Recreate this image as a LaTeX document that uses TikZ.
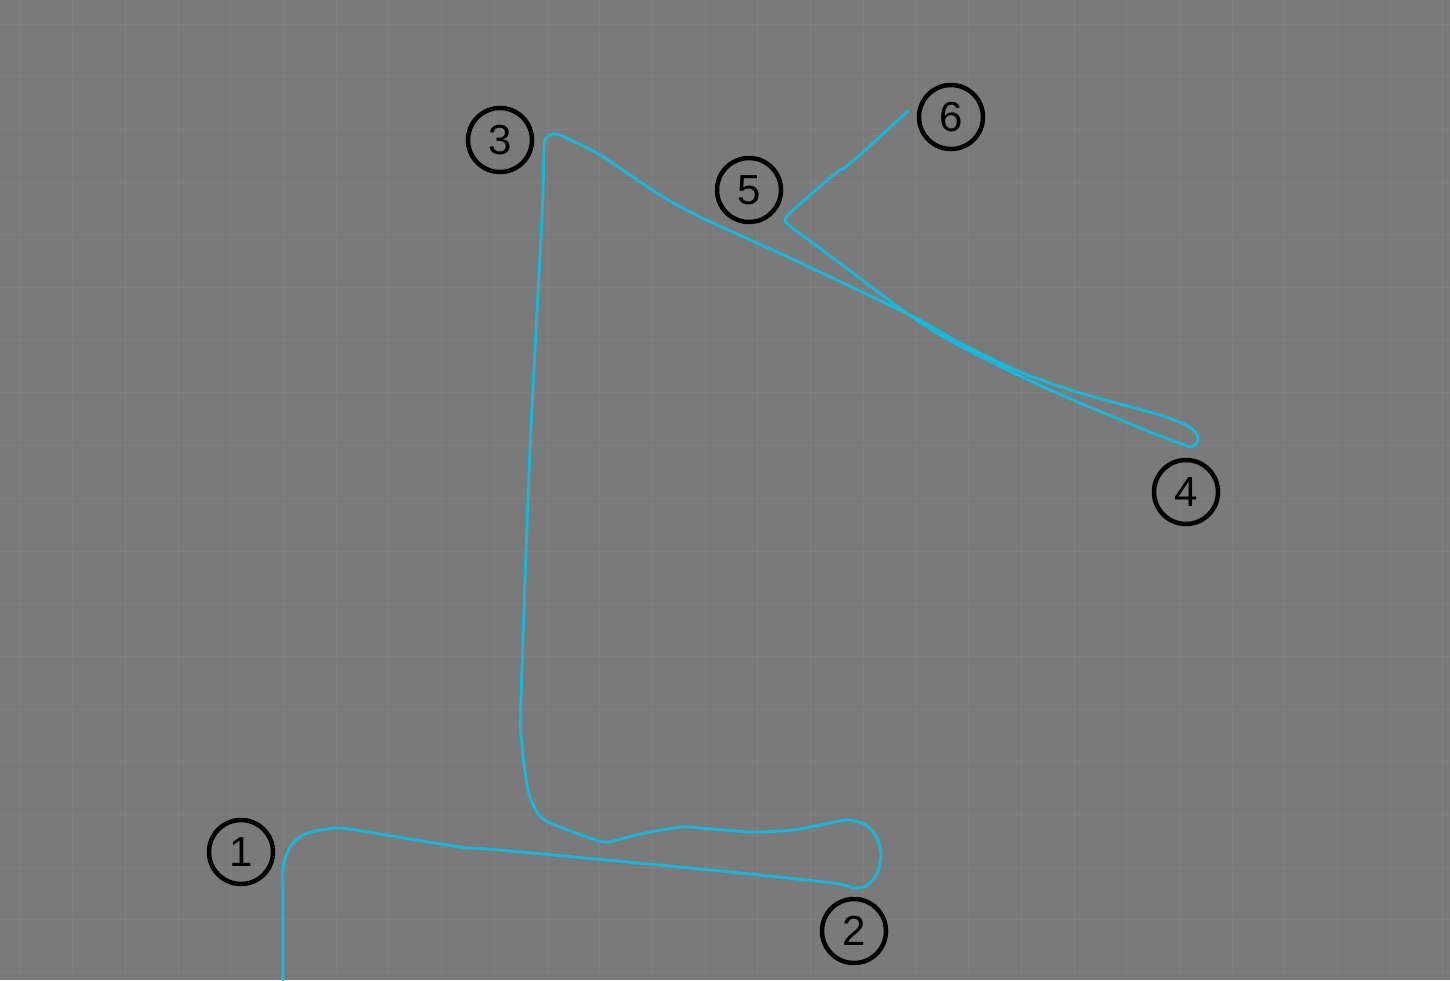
\documentclass[tikz,border=0pt]{standalone}
\usepackage{fontspec}
\setmainfont{Liberation Sans}
\definecolor{bg}{RGB}{122,122,122}
\definecolor{gridc}{RGB}{128,128,128}
\definecolor{track}{RGB}{20,185,220}
\tikzset{
  marker/.style={circle, draw=black, line width=4.5pt, minimum size=64pt, inner sep=0pt,
    font=\fontsize{42}{42}\selectfont, text=black},
  trackline/.style={draw=track, line width=2.8pt, line join=round, line cap=round},
}
\begin{document}
\begin{tikzpicture}[x=1pt,y=-1pt]
\fill[bg] (0,0) rectangle (1450,980);
\useasboundingbox (0,0) rectangle (1450,980);
\foreach \i in {0,...,27} {
  \draw[gridc, line width=1pt] ({20+52.7*\i},0) -- ({20+52.7*\i},980);
}
\foreach \j in {0,...,18} {
  \draw[gridc, line width=1pt] (0,{24+52.7*\j}) -- (1450,{24+52.7*\j});
}
% trajectory
\draw[trackline] plot[smooth, tension=0.45] coordinates {
  (283,980) (283,900) (283,868) (290,847) (305,834) (338,828) (380,834) (460,847)
  (500,850) (700,869) (833,883) (852,888) (866,886) (877,874) (881,855) (877,838)
  (866,825) (848,820) (830,823) (800,829) (780,831) (750,832) (700,828) (680,827)
  (640,834) (607,842) (590,838) (548,822) (537,812) (528,790) (522,745) (521,700)
  (530,450) (542,217) (544,150) (546,138) (553,134) (562,136) (597,153) (630,175)
  (660,195) (700,217) (790,258) (910,315) (960,343) (1020,372) (1080,393) (1160,415)
  (1186,425) (1196,433) (1198,441) (1191,447) (1182,444) (1160,436) (1080,403)
  (1020,376) (960,346) (912,317) (833,258) (790,226) (785,220) (792,211) (837,172)
  (843,169) (860,155) (885,132) (908,111)
};
% markers
\node[marker] (m1) at (241,852) {1};
\node[marker] (m2) at (854,931) {2};
\node[marker] (m3) at (500,140) {3};
\node[marker] (m4) at (1186,492) {4};
\node[marker] (m5) at (749,190) {5};
\node[marker] (m6) at (951,117) {6};
\end{tikzpicture}
\end{document}
